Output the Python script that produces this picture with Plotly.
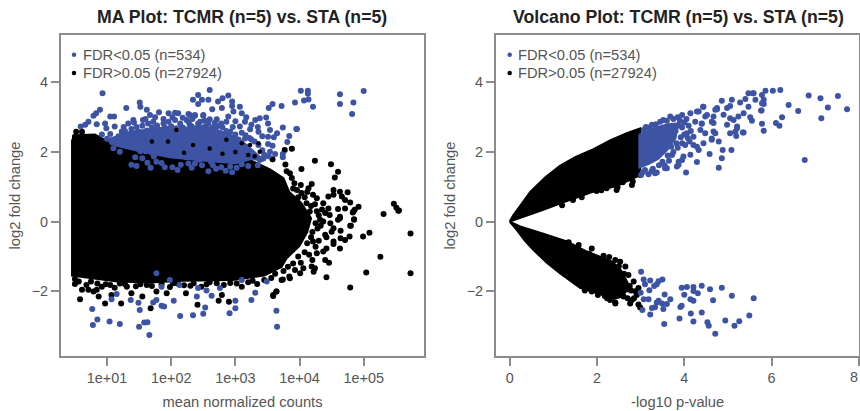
import plotly.graph_objects as go
from plotly.subplots import make_subplots

BLUE = "#3d53a4"
BLACK = "#000000"
AXIS = "#8c8c8c"
TEXT = "#555555"
FONT = "Liberation Sans, Arial, sans-serif"

titles = ["MA Plot: TCMR (n=5) vs. STA (n=5)", "Volcano Plot: TCMR (n=5) vs. STA (n=5)"]
legend_labels = ["FDR<0.05 (n=534)", "FDR>0.05 (n=27924)"]
ma_ticks = [10, 100, 1000, 10000, 100000]
ma_ticktext = ["1e+01", "1e+02", "1e+03", "1e+04", "1e+05"]
y_ticks = [-2, 0, 2, 4]
volcano_ticks = [0, 2, 4, 6, 8]

# MA plot (log10 mean count, log2 fold change): envelope of the saturated cloud
ma_black_cloud = [(0.455,2.35),(0.52,2.48),(0.81,2.5),(0.97,2.35),(1.51,2.06),(2.45,1.77),(3.23,1.77),
    (3.54,1.5),(3.75,1.25),(3.84,0.85),(4.02,0.55),(4.18,0.1),(4.12,-0.30),(4.0,-0.7),(3.8,-1.05),
    (3.72,-1.3),(3.45,-1.55),(2.96,-1.68),(2.18,-1.7),(1.67,-1.75),(1.16,-1.72),(0.69,-1.6),(0.455,-1.55)]
ma_blue_cloud = [(1.0,2.35),(1.36,2.58),(1.98,2.72),(2.65,2.68),(3.05,2.4),(3.3,2.0),(3.45,1.75),
    (3.25,1.8),(3.0,1.68),(2.53,1.75),(1.98,1.85),(1.51,2.02),(1.15,2.18)]
ma_black_points = [(3.88,2.09),(3.77,2.06),(3.58,1.79),(3.78,1.64),(4.03,1.51),(4.24,1.75),(4.49,1.65),(4.60,1.43),
    (4.55,1.27),(3.85,1.39),(3.88,1.25),(4.19,1.08),(4.14,0.96),(3.96,0.91),(4.03,0.82),(4.21,0.77),(4.27,0.67),
    (4.53,0.91),(4.53,0.77),(4.63,0.86),(4.66,0.72),(4.75,0.84),(4.71,0.62),(4.79,0.55),(4.45,0.72),(4.37,0.53),
    (4.45,0.38),(4.60,0.36),(4.71,0.38),(4.92,0.43),(4.86,0.34),(4.83,0.26),(5.47,0.51),(5.51,0.40),(5.55,0.32),
    (5.31,0.22),(4.63,0.14),(4.60,0.05),(4.85,0.05),(4.47,0.19),(4.32,0.05),(4.53,-0.19),(4.79,-0.12),(4.11,0.53),
    (4.16,0.29),(5.54,0.31),(4.84,0.29),(4.85,0.07),(4.80,-0.12),(4.63,0.10),(4.37,0.0),(5.09,-0.32),(4.99,-0.43),
    (5.73,-0.34),(4.78,-0.43),(4.71,-0.53),(4.64,-0.48),(4.64,-0.26),(4.53,-0.57),(4.53,-0.64),(4.63,-0.77),
    (4.42,-0.77),(4.37,-0.86),(4.50,-0.29),(4.40,-1.10),(4.46,-1.18),(4.20,-1.10),(5.26,-1.01),(5.04,-1.46),
    (5.73,-1.48),(4.79,-1.89),(4.42,-1.60),(4.24,-1.34),(4.19,-1.29),(4.22,-1.44),(4.01,-1.48),(3.84,-1.58),
    (3.74,-1.66),(3.64,-2.01),(3.59,-2.11),(3.93,-1.39),(4.06,-1.34),(4.27,-0.91),(4.21,-0.57),(4.40,-0.38),
    (0.50,-1.79),(0.58,-2.23),(0.61,-1.96),(0.71,-1.96),(0.79,-2.01),(0.87,-2.15),(0.97,-2.35),(0.92,-1.87),
    (1.22,-2.35),(1.07,-2.11),(1.38,-2.06),(1.55,-2.15),(1.68,-2.49),(1.77,-2.01),(1.93,-2.06),(2.23,-2.06),
    (2.41,-2.39),(2.47,-1.87),(2.74,-2.27),(2.79,-2.11),(2.90,-2.30),(3.59,-2.14),(3.64,-2.01),(3.34,-1.79),
    (3.10,-1.87),(3.72,-1.68),(3.85,-1.63),(1.05,-1.82),(1.31,-1.87),(1.62,-1.82),(2.03,-1.77),(2.35,-1.77),
    (2.71,-1.77),(0.68,-1.82),(0.84,-1.96),(0.52,2.58),(0.61,2.58),(0.50,2.44),
    # ragged right edge
    (3.8,1.45),(3.92,1.1),(3.9,0.95),(4.02,1.05),(4.08,0.7),(4.12,0.85),(4.18,0.45),(4.24,0.5),(4.27,0.3),(4.3,0.18),
    (4.35,0.35),(4.25,-0.05),(4.28,-0.2),(4.2,-0.3),(4.33,-0.12),(4.18,-0.45),(4.12,-0.62),(4.25,-0.72),(4.08,-0.88),
    (4.15,-0.95),(3.98,-1.0),(4.02,-1.18),(3.9,-1.2),(3.82,-1.3),(3.75,-1.42),(3.62,-1.5),(3.56,-1.62),(3.45,-1.68),
    (4.4,0.25),(4.48,-0.05),(4.42,-0.45),(4.3,-0.55),(4.12,0.18),(4.05,0.35),(3.98,0.7),
    # ragged lower edge
    (0.5,-1.65),(0.56,-1.72),(0.75,-1.72),(0.85,-1.78),(0.98,-1.8),(1.12,-1.9),(1.2,-1.78),(1.28,-1.8),(1.45,-1.86),
    (1.52,-1.8),(1.7,-1.85),(1.85,-1.8),(1.98,-1.88),(2.1,-1.78),(2.2,-1.83),(2.3,-1.84),(2.55,-1.8),(2.6,-1.74),
    (2.82,-1.82),(2.92,-1.76),(3.02,-1.78),(3.2,-1.74),(3.27,-1.7)]
ma_blue_points = [(0.93,3.69),(1.30,3.26),(1.51,3.42),(1.52,3.30),(1.62,3.21),(1.67,3.06),(1.81,3.14),(1.96,3.11),
    (2.06,3.13),(2.11,3.11),(2.27,3.09),(2.37,3.06),(2.50,3.06),(0.89,3.21),(0.83,3.11),(0.79,3.04),(0.71,2.87),
    (0.66,2.78),(0.59,2.73),(0.84,2.80),(0.97,2.82),(1.05,3.02),(1.11,3.02),(0.99,2.68),(1.12,2.73),(1.23,2.59),
    (1.33,2.82),(1.41,2.92),(1.56,2.92),(1.64,2.82),(1.72,2.87),(1.88,2.82),(1.96,2.87),(2.06,2.92),(2.24,2.92),
    (2.29,2.78),(2.45,2.87),(2.58,2.82),(2.14,2.82),(1.49,2.59),(1.83,2.63),(1.10,2.11),(1.20,2.01),(1.44,1.85),
    (1.38,1.63),(1.46,1.60),(1.63,1.69),(1.73,1.87),(1.77,1.72),(1.90,1.56),(2.02,1.56),(2.15,1.63),(2.27,1.67),
    (2.37,1.67),(2.60,3.78),(2.42,3.64),(2.34,3.50),(2.48,3.50),(2.42,3.38),(2.58,3.50),(2.64,3.23),(2.73,3.45),
    (2.80,3.54),(2.89,3.62),(2.95,3.45),(2.95,3.32),(2.79,3.26),(3.07,3.30),(2.97,3.16),(3.10,3.11),(3.17,3.0),
    (3.15,2.87),(3.31,2.92),(3.38,2.97),(3.48,2.99),(3.51,2.82),(3.54,2.63),(3.52,3.26),(3.58,3.38),(3.72,3.32),
    (3.93,3.42),(4.02,3.76),(4.13,3.76),(4.13,3.67),(4.14,3.51),(4.07,3.48),(4.21,3.30),(3.96,2.66),(3.74,2.70),
    (3.65,2.54),(3.84,2.46),(3.81,2.29),(3.51,2.44),(3.51,2.23),(3.36,2.58),(3.23,2.65),(3.07,2.73),(2.92,2.58),
    (2.86,2.87),(2.89,3.02),(2.71,2.94),(2.60,2.94),(2.50,3.04),(2.37,3.04),(2.29,3.06),(2.27,2.87),(2.42,2.82),
    (2.53,2.73),(2.32,2.73),(3.74,1.94),(3.74,1.85),(3.62,1.94),(3.54,2.01),(3.38,1.77),(3.44,1.82),(3.15,2.39),
    (3.25,2.36),(3.05,2.36),(3.10,2.06),(2.97,2.15),(4.63,3.66),(4.63,3.38),(4.84,3.42),(4.82,3.09),(5.00,3.75),
    (3.95,2.66),
    # dense band above the cloud
    (0.92,2.5),(1.05,2.52),(1.18,2.45),(1.28,2.6),(1.38,2.66),(1.46,2.72),(1.55,2.75),(1.62,2.62),(1.7,2.7),(1.78,2.76),
    (1.9,2.7),(2.0,2.74),(2.08,2.68),(2.18,2.7),(2.26,2.62),(2.38,2.68),(2.46,2.7),(2.56,2.66),(2.64,2.7),(2.72,2.74),
    (2.8,2.7),(2.86,2.6),(2.96,2.72),(3.0,2.5),(3.1,2.55),(3.16,2.48),(3.22,2.4),(3.3,2.3),(3.36,2.2),(3.42,2.05),
    (3.45,1.92),(3.52,1.88),(3.18,2.15),(1.08,2.28),(1.0,2.38),(1.3,2.3),(1.4,2.18),(1.52,2.02),(1.6,2.02),(1.7,1.98),
    (1.82,1.96),(2.24,1.85),(2.44,1.78),(2.62,1.72),(2.7,1.52),(2.78,1.56),(2.85,1.46),(2.95,1.42),(3.02,1.55),(3.1,1.65),
    (1.42,2.85),(1.6,2.95),(1.75,3.0),(1.88,2.95),(2.02,3.0),(2.18,2.98),(2.33,2.95),(2.52,2.9),(2.68,2.84),(2.78,2.82),
    (3.0,2.88),(3.25,2.78),(3.35,2.72),(3.42,2.45),(3.58,2.18),(3.6,2.42),(1.26,2.72),(1.55,1.82),(1.68,1.55),(2.1,1.48),
    (2.32,1.55),(2.48,1.62),(2.58,1.45),(3.2,1.6),(3.35,1.62),(1.85,1.68),(2.65,1.62),(2.92,1.58),
    # below the lower edge
    (0.77,-2.51),(0.85,-2.81),(0.78,-2.97),(1.04,-2.87),(1.20,-2.94),(1.50,-3.02),(1.58,-2.90),
    (1.63,-2.89),(1.66,-3.26),(1.51,-2.54),(1.85,-2.42),(1.89,-2.44),(2.14,-2.71),(2.34,-2.69),(2.50,-2.65),
    (2.53,-2.47),(2.04,-2.27),(2.40,-2.15),(2.63,-2.13),(2.55,-1.98),(2.91,-2.63),(3.0,-2.49),(3.0,-2.27),
    (3.25,-2.25),(3.31,-2.04),(3.64,-2.56),(3.65,-3.02),(1.15,-2.08),(1.07,-2.23),(1.37,-2.25),(1.49,-2.33),
    (1.72,-2.32),(1.77,-2.25),(1.85,-1.87),(1.98,-1.68),(2.13,-1.82),(2.42,-1.91),(2.76,-1.91),(1.77,-1.48),
    (3.10,-1.68),(3.49,-1.72)]
ma_black_top = [(3.76,2.06),(3.89,2.09),(3.78,1.63),(3.58,1.77),(3.38,2.01),(2.86,2.35),(3.36,2.25),(3.23,2.2),
    (3.20,1.91),(2.34,2.2),(2.08,2.63),(1.95,2.3),(2.6,2.1),(3.0,2.0),(1.7,2.3),(2.2,1.98),(2.8,1.95),(3.1,2.25),(3.3,1.88)]

# Volcano plot (-log10 p-value, log2 fold change)
vo_black_upper = [(0.0,0.0),(0.08,0.18),(0.24,0.45),(0.47,0.85),(0.81,1.27),(1.15,1.6),(1.5,1.85),(1.92,2.08),
    (2.3,2.33),(2.68,2.54),(2.99,2.68),(2.99,1.34),(2.80,1.22),(2.45,1.02),(1.92,0.86),(1.5,0.68),(1.15,0.52),
    (0.77,0.34),(0.4,0.17),(0.1,0.03)]
vo_black_lower = [(0.0,0.0),(0.24,-0.14),(0.77,-0.35),(1.31,-0.57),(1.77,-0.86),(2.07,-1.0),(2.35,-1.15),(2.55,-1.4),
    (2.72,-1.8),(2.6,-2.15),(2.38,-2.22),(2.0,-2.05),(1.61,-1.9),(1.15,-1.48),(0.85,-1.18),(0.54,-0.81),(0.35,-0.55),(0.16,-0.24)]
vo_blue_cloud = [(2.97,2.5),(3.3,2.68),(3.62,2.8),(3.85,2.82),(3.8,2.4),(3.6,2.05),(3.4,1.8),(3.18,1.65),(2.97,1.55)]
vo_black_points = [(2.45,0.91),(2.47,0.99),(2.59,1.13),(2.80,1.05),(2.82,1.15),(2.99,1.34),(1.99,0.88),(2.30,1.05),
    (1.2,0.47),(1.45,0.62),(1.65,0.7),(2.1,0.9),(2.22,0.96),
    (2.42,-2.35),(2.23,-2.20),(2.02,-2.11),(1.88,-2.01),(1.88,-0.77),(1.58,-0.67),(1.35,-0.59),(2.42,-1.10),
    (2.53,-1.15),(2.65,-1.29),(2.72,-1.53),(2.84,-1.72),(2.95,-1.91),(2.61,-2.15),(2.76,-2.35),(2.80,-2.25),
    (2.91,-2.11),(2.99,-2.47),(2.95,-2.38),(2.42,-2.32),(2.75,-1.85),(2.3,-2.25),(2.78,-1.98),(2.88,-2.0),(2.68,-1.95),
    (2.15,-0.98),(2.28,-1.02),(2.5,-1.28),(2.62,-1.5),(2.18,-2.14),(1.72,-1.98),(1.82,-0.92),(2.7,-2.2),(2.85,-2.2)]
vo_blue_points = [(6.20,3.78),(6.03,3.76),(5.86,3.76),(5.78,3.64),(5.82,3.50),(6.85,3.62),(7.12,3.54),(7.52,3.61),
    (6.39,3.35),(6.61,3.18),(7.29,3.28),(7.73,3.23),(7.14,2.97),(6.24,3.0),(6.10,2.83),(6.18,2.75),(5.78,2.81),
    (5.82,2.61),(5.77,3.19),(5.82,3.38),(5.63,3.50),(5.57,3.69),(5.47,3.69),(5.40,3.52),(5.28,3.42),(5.09,3.50),
    (4.86,3.47),(5.05,3.32),(4.98,3.26),(4.71,3.21),(4.75,3.26),(4.90,3.07),(4.67,3.02),(5.47,3.30),(5.51,3.0),
    (5.55,2.90),(5.36,3.11),(5.24,3.02),(5.13,2.92),(4.98,2.78),(5.21,2.73),(5.17,2.59),(5.36,2.56),(5.05,2.54),
    (6.76,1.77),(5.08,2.06),(4.86,1.82),(4.88,2.06),(4.79,2.30),(4.58,1.94),(4.79,1.55),(4.29,1.71),(4.04,1.41),
    (3.83,1.58),(3.60,1.53),(3.37,1.41),(3.18,1.36),(3.01,1.34),(4.44,3.30),(4.29,3.16),(4.48,3.02),(4.40,2.81),
    (4.67,2.83),(4.71,2.54),(4.63,2.35),(4.48,2.54),(4.44,2.25),(4.29,2.15),(4.14,1.92),(3.98,1.87),(3.87,1.72),
    (4.21,2.44),(4.06,2.54),(4.43,3.30),(4.75,3.23),(5.05,2.97),(5.59,3.69),(5.78,3.40),(5.76,3.19),(5.19,2.46),
    (5.21,2.68),(5.34,2.56),(4.33,2.06),(4.21,2.20),(4.63,2.39),(4.67,2.59),(4.37,2.63),(4.40,2.82),(4.63,2.87),
    (4.25,2.87),(4.52,3.06),(4.33,3.16),(4.14,3.11),(3.95,3.06),(3.68,3.02),(3.45,2.87),(3.26,2.78),(3.07,2.63),
    (3.95,1.77),(3.72,1.91),(3.56,1.53),(3.33,1.39),(3.87,1.63),(4.02,2.20),(4.10,2.75),(4.05,2.95),(4.15,2.60),
    (4.08,2.40),(3.82,2.25),(3.65,1.75),(3.25,1.45),(3.55,1.62),
    # edge of the dense blue cluster
    (3.12,2.72),(3.2,2.7),(3.35,2.8),(3.52,2.92),(3.6,2.9),(3.75,2.95),(3.85,3.0),(3.9,2.9),(4.0,2.85),(3.95,2.7),
    (4.0,2.5),(3.92,2.42),(3.95,2.25),(3.85,2.12),(3.75,2.0),(3.62,1.9),(3.5,1.72),(3.42,1.62),(3.28,1.52),(3.1,1.48),
    (3.05,1.42),(3.7,2.15),(3.8,2.6),(3.88,2.75),(4.12,2.3),
    (3.01,-1.44),(3.07,-1.66),(3.22,-1.69),(3.50,-1.66),
    (3.41,-1.71),(3.37,-1.80),(3.31,-1.85),(3.10,-1.80),(3.20,-1.97),(3.0,-2.04),(3.07,-2.23),(3.18,-2.23),
    (3.55,-2.09),(3.68,-2.23),(3.41,-2.27),(3.37,-2.32),(3.49,-2.35),(3.60,-2.37),(3.52,-2.51),(3.33,-2.46),
    (3.26,-2.48),(3.04,-2.54),(3.22,-2.67),(3.54,-2.94),(3.91,-2.45),(3.94,-2.42),(3.89,-2.78),(4.15,-2.64),
    (4.40,-2.61),(4.21,-2.87),(4.53,-2.89),(4.56,-2.99),(4.71,-3.22),(4.94,-2.84),(5.15,-2.99),(5.26,-2.86),
    (5.49,-2.70),(5.59,-2.20),(5.09,-2.13),(4.86,-1.90),(4.59,-1.94),(4.40,-1.84),(4.21,-1.88),(4.06,-1.88),
    (3.94,-1.90),(4.21,-1.99),(4.31,-2.06),(4.0,-2.10),(4.14,-2.23),(4.21,-2.27),(4.66,-2.26)]

# Legend key positions in data units of each panel
ma_legend_keys = [(0.486, 4.79), (0.486, 4.27)]
vo_legend_keys = [(0.0, 4.79), (0.0, 4.27)]

fig = make_subplots(rows=1, cols=2)


def unzip(pairs, log=False):
    xs = [p[0] for p in pairs]
    if log:
        xs = [10 ** v for v in xs]
    return xs, [p[1] for p in pairs]


def cloud(pairs, color, col, log=False):
    x, y = unzip(pairs + pairs[:1], log)
    fig.add_trace(go.Scatter(x=x, y=y, mode="lines", fill="toself", fillcolor=color,
                             line=dict(color=color, width=2), hoverinfo="skip", showlegend=False), row=1, col=col)


def dots(pairs, color, col, log=False, size=6):
    x, y = unzip(pairs, log)
    fig.add_trace(go.Scatter(x=x, y=y, mode="markers", marker=dict(color=color, size=size, line=dict(width=0)),
                             showlegend=False), row=1, col=col)


cloud(ma_black_cloud, BLACK, 1, True)
dots(ma_black_points, BLACK, 1, True)
cloud(ma_blue_cloud, BLUE, 1, True)
dots(ma_blue_points, BLUE, 1, True)
dots(ma_black_top, BLACK, 1, True, 4.5)
cloud(vo_black_upper, BLACK, 2)
cloud(vo_black_lower, BLACK, 2)
dots(vo_black_points, BLACK, 2)
cloud(vo_blue_cloud, BLUE, 2)
dots(vo_blue_points, BLUE, 2)

dots(ma_legend_keys[:1], BLUE, 1, True, 4.5)
dots(ma_legend_keys[1:], BLACK, 1, True, 4.5)
dots(vo_legend_keys[:1], BLUE, 2, False, 4.5)
dots(vo_legend_keys[1:], BLACK, 2, False, 4.5)

axis = dict(showgrid=False, zeroline=False, showline=True, mirror=True, linecolor=AXIS, linewidth=2,
            ticks="outside", ticklen=8, tickwidth=1.5, tickcolor=AXIS,
            tickfont=dict(family=FONT, size=14.4, color=TEXT), title_font=dict(family=FONT, size=14.7, color=TEXT))
Y0, Y1 = 1 - 356 / 411, 1 - 35 / 411
fig.update_xaxes(axis)
fig.update_yaxes(axis)
fig.update_layout(
    width=860, height=411, margin=dict(l=0, r=0, t=0, b=0), showlegend=False,
    paper_bgcolor="white", plot_bgcolor="white",
    xaxis=dict(domain=[61 / 860, 424 / 860], type="log", range=[0.283, 5.94], tickvals=ma_ticks, ticktext=ma_ticktext,
               title=dict(text="mean normalized counts", standoff=11)),
    yaxis=dict(domain=[Y0, Y1], range=[-3.86, 5.36], tickvals=y_ticks, title=dict(text="log2 fold change", standoff=8)),
    xaxis2=dict(domain=[496 / 860, 859.3 / 860], range=[-0.314, 8.01], tickvals=volcano_ticks,
                title=dict(text="-log10 p-value", standoff=11)),
    yaxis2=dict(domain=[Y0, Y1], range=[-3.86, 5.36], tickvals=y_ticks, title=dict(text="log2 fold change", standoff=8)),
)

annos = []
for t, cx in zip(titles, [241.6, 678]):
    annos.append(dict(text=f"<b>{t}</b>", x=cx / 860, y=1 - 17 / 411, xref="paper", yref="paper", showarrow=False,
                      xanchor="center", yanchor="middle", font=dict(family=FONT, size=17.7, color="#222222")))
for lab, py in zip(legend_labels, [54.5, 72.5]):
    for left in (82, 517):
        annos.append(dict(text=lab, x=left / 860, y=1 - py / 411, xref="paper", yref="paper", showarrow=False,
                          xanchor="left", yanchor="middle", xshift=-1, font=dict(family=FONT, size=14.7, color=TEXT)))
# The last volcano tick label sits on the page edge, where Plotly would drop it
annos.append(dict(text=str(volcano_ticks[-1]), x=1, y=1 - 377 / 411, xref="paper", yref="paper", showarrow=False,
                  xanchor="right", yanchor="middle", font=dict(family=FONT, size=14.4, color=TEXT)))
fig.update_layout(annotations=annos)

fig.write_html("out.html", config=dict(displayModeBar=False), post_script="document.body.style.margin='0';")
